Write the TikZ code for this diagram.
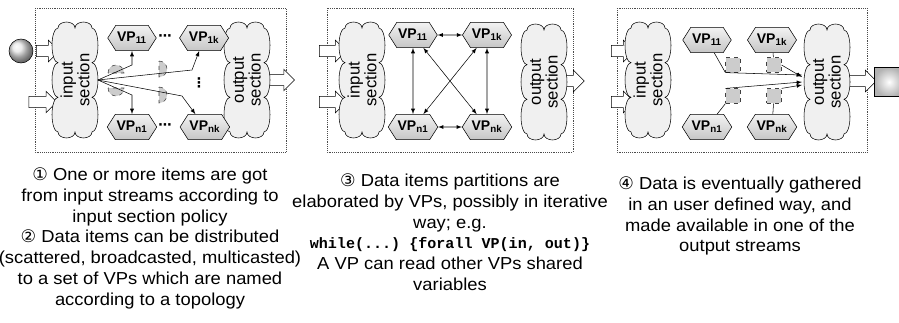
\documentclass[tikz,border=0pt]{standalone}
\usepackage{fontspec}
\setmainfont{Liberation Sans}
\setmonofont{Liberation Mono}
\newfontfamily\capfont{Liberation Sans}[FakeStretch=1.06]
\newfontfamily\circfont{DejaVu Sans}
\usetikzlibrary{arrows,positioning,shapes.symbols,shapes.arrows,shapes.misc}

\tikzset{
  secttxt/.style={rotate=90, align=center, inner sep=0pt, minimum width=78pt, minimum height=34pt,
    font=\fontsize{12.5}{12.5}\selectfont},
  sectline/.style={draw, fill=gray!12},
  vp/.style={signal, signal to=east and west, signal pointer angle=115, draw, top color=gray!10,
    bottom color=gray!45, font=\fontsize{10.5}{12}\selectfont\bfseries, minimum width=31pt,
    minimum height=19pt, inner sep=1pt},
  blk/.style={single arrow, draw, fill=white, minimum height=17pt, inner sep=4pt,
    single arrow head extend=3.8pt},
  frame/.style={draw=gray!60!black, densely dotted},
  half/.style={draw=gray!50!black, dashed, fill=gray!40},
  sq/.style={draw=gray!50!black, dashed, fill=gray!40, minimum size=11pt, inner sep=0pt},
  dots/.style={font=\circfont\bfseries, inner sep=0pt},
  captxt/.style={anchor=north, align=center, font=\capfont\fontsize{13}{15.6}\selectfont},
  conn/.style={-latex}
}

% wavy section outline with its label: name, centre, text
\newcommand{\sectcloud}[3]{%
  \draw[sectline] (#2) ++(-17,-52)
    arc[start angle=180,end angle=360,x radius=8.5,y radius=6]
    arc[start angle=180,end angle=360,x radius=8.5,y radius=6]
    arc[start angle=270,end angle=450,x radius=6,y radius=17.33]
    arc[start angle=270,end angle=450,x radius=6,y radius=17.33]
    arc[start angle=270,end angle=450,x radius=6,y radius=17.33]
    arc[start angle=0,end angle=180,x radius=8.5,y radius=6]
    arc[start angle=0,end angle=180,x radius=8.5,y radius=6]
    arc[start angle=90,end angle=270,x radius=6,y radius=17.33]
    arc[start angle=90,end angle=270,x radius=6,y radius=17.33]
    arc[start angle=90,end angle=270,x radius=6,y radius=17.33] -- cycle;
  \node[secttxt] (#1) at (#2) {#3};
}

\begin{document}
\begin{tikzpicture}[x=0.75pt,y=-0.75pt]
      \useasboundingbox (0,0) rectangle (899,322);

      % first step: input and distribution
      \draw[frame] (35,8) rectangle (286,152);
      \node[draw,circle,shading=ball,ball color=gray!20,minimum size=18pt] (src) at (21,51) {};
      \node[blk] (a11) at (45,51) {};
      \node[blk,minimum height=21pt] (a12) at (40,102) {};
      \node[blk,minimum height=22pt] (a13) at (277,80) {};
      \sectcloud{in1}{75,80}{input\\section}
      \sectcloud{out1}{247,80}{output\\section}

      \node[vp] (p11) at (132,38) {VP\textsubscript{11}};
      \node[vp,right = 17pt of p11] (p1k) {VP\textsubscript{1k}};
      \node[vp] (pn1) at (132,127) {VP\textsubscript{n1}};
      \node[vp,right = 17pt of pn1] (pnk) {VP\textsubscript{nk}};
      \node[dots] (d1) at (165,38) {⋯};
      \node[dots] (d2) at (165,127) {⋯};
      \node[dots] (d3) at (199,83) {⋮};

      \draw[half] (108,73) arc[start angle=180,end angle=360,radius=8] -- cycle;
      \draw[half] (108,88) arc[start angle=180,end angle=0,radius=8] -- cycle;
      \draw[half] (159,61) arc[start angle=270,end angle=450,radius=8] -- cycle;
      \draw[half] (159,87) arc[start angle=270,end angle=450,radius=8] -- cycle;

      \coordinate (f11) at (132,65);
      \coordinate (f1k) at (192,70);
      \coordinate (fn1) at (132,95);
      \coordinate (fnk) at (182,96);
      \draw[conn] (in1.south) -- (f11) -- (p11);
      \draw[conn] (in1.south) -- (f1k) -- (p1k);
      \draw[conn] (in1.south) -- (fn1) -- (pn1);
      \draw[conn] (in1.south) -- (fnk) -- (pnk);

      % second step: computation
      \draw[frame] (327,8) rectangle (573,152);
      \node[blk,minimum height=20pt] (a21) at (330,51) {};
      \node[blk,minimum height=20pt] (a22) at (330,102) {};
      \node[blk] (a23) at (570,81) {};
      \sectcloud{in2}{362,80}{input\\section}
      \sectcloud{out2}{544,82}{output\\section}

      \node[vp] (q11) at (413,35) {VP\textsubscript{11}};
      \node[vp] (q1k) at (487,35) {VP\textsubscript{1k}};
      \node[vp] (qn1) at (413,127) {VP\textsubscript{n1}};
      \node[vp] (qnk) at (487,127) {VP\textsubscript{nk}};
      \draw[latex-latex] (q11) -- (q1k);
      \draw[latex-latex] (qn1) -- (qnk);
      \draw[latex-latex] (q11) -- (qn1);
      \draw[latex-latex] (q1k) -- (qnk);
      \draw[latex-latex] (q11) -- (qnk);
      \draw[latex-latex] (q1k) -- (qn1);

      % third step: gathering
      \draw[frame] (617,8) rectangle (867,152);
      \node[blk] (a31) at (620,51) {};
      \node[blk] (a32) at (620,102) {};
      \node[blk,minimum height=20pt] (a33) at (860,81) {};
      \node[draw,shading=radial,inner color=white,outer color=gray!60,minimum size=22pt] (snk) at (889,82) {};
      \sectcloud{in3}{648,80}{input\\section}
      \sectcloud{out3}{827,82}{output\\section}

      \node[vp] (r11) at (707,40) {VP\textsubscript{11}};
      \node[vp] (r1k) at (772,40) {VP\textsubscript{1k}};
      \node[vp] (rn1) at (707,127) {VP\textsubscript{n1}};
      \node[vp] (rnk) at (772,127) {VP\textsubscript{nk}};

      \node[sq] (s11) at (733,65) {};
      \node[sq] (s1k) at (774,65) {};
      \node[sq] (sn1) at (733,96) {};
      \node[sq] (snk) at (774,96) {};

      \coordinate (t1) at (802,75);
      \coordinate (t2) at (802,77);
      \coordinate (t3) at (802,82);
      \coordinate (t4) at (802,85);
      \draw (r11) -- (s11.south west);
      \draw[conn] (s11.south west) -- (t1);
      \draw (r1k) -- (s1k);
      \draw[conn] (s1k.east) -- (t2);
      \draw (rn1) -- (sn1.south west);
      \draw[conn] (sn1.north west) -- (t3);
      \draw (rnk) -- (snk);
      \draw[conn] (snk.north east) -- (t4);

      % captions
      \node[captxt] (c1) at (150,163) {{\circfont ①} One or more items are got\\from input streams according to\\input section policy\\{\circfont ②} Data items can be distributed\\(scattered, broadcasted, multicasted)\\to a set of VPs which are named\\according to a topology};
      \node[captxt] (c2) at (450,169) {{\circfont ③} Data items partitions are\\elaborated by VPs, possibly in iterative\\way; e.g.\\{\fontsize{11.3}{12}\selectfont\ttfamily\bfseries while(...) \{forall VP(in, out)\}}\\A VP can read other VPs shared\\variables};
      \node[captxt] (c3) at (740,172) {{\circfont ④} Data is eventually gathered\\in an user defined way, and\\made available in one of the\\output streams};
\end{tikzpicture}
\end{document}
